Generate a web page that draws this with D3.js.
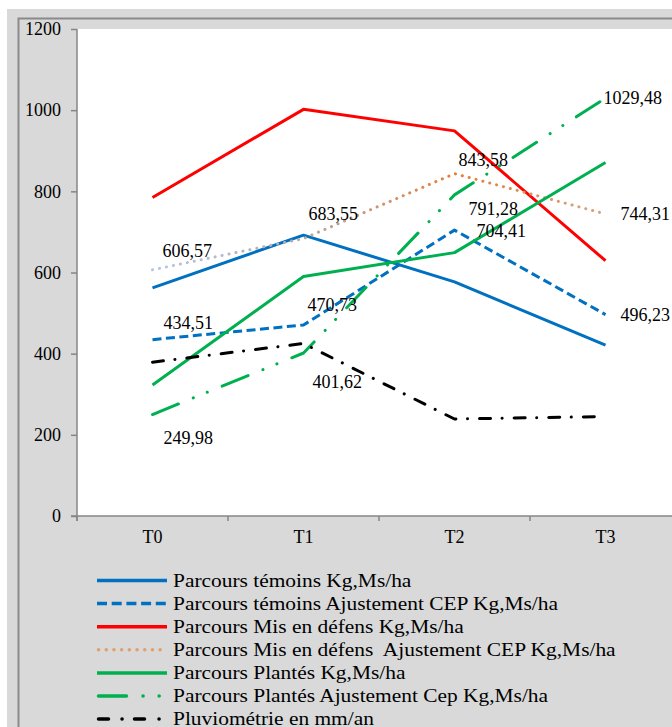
<!DOCTYPE html>
<html>
<head>
<meta charset="utf-8">
<script src="https://cdn.jsdelivr.net/npm/d3@7"></script>
<style>
  html, body { margin: 0; padding: 0; background: #fff; }
  svg text { font-family: 'Liberation Serif', 'Times New Roman', 'DejaVu Serif', serif; }
</style>
</head>
<body>
<div id="chart"></div>
<script>
// data
const periods = ['T0', 'T1', 'T2', 'T3'];
const yTicks = [0, 200, 400, 600, 800, 1000, 1200];

const temoins = [562, 692, 577, 421];
const temoinsCEP = [434.51, 470.73, 704.41, 496.23];
const misEnDefens = [785, 1002, 949, 629];
const misEnDefensCEP = [606.57, 683.55, 843.58, 744.31];
const plantes = [323, 590, 649, 871];
const plantesCEP = [249.98, 401.62, 791.28, 1029.48];
const pluvio = [379, 425, 239, 245];

const seriesNames = [
  'Parcours témoins Kg,Ms/ha',
  'Parcours témoins Ajustement CEP Kg,Ms/ha',
  'Parcours Mis en défens Kg,Ms/ha',
  'Parcours Mis en défens  Ajustement CEP Kg,Ms/ha',
  'Parcours Plantés Kg,Ms/ha',
  'Parcours Plantés Ajustement Cep Kg,Ms/ha',
  'Pluviométrie en mm/an'
];

const FONT = "'Liberation Serif', 'Times New Roman', 'DejaVu Serif', serif";

// styles for each series
const styles = [
  { color: '#0070C0', dash: null, cap: 'butt' },
  { color: '#0070C0', dash: '9,4.5', legendDash: '10,4.7', cap: 'butt' },
  { color: '#FF0000', dash: null, cap: 'butt' },
  { color: 'url(#gradDot)', legendColor: '#e0a070', dash: '0.1,7', legendDash: '0.1,7.6', cap: 'round' },
  { color: '#00B050', dash: null, cap: 'butt' },
  { color: '#00B050', dash: '28,16,0.1,15,0.1,16', legendDash: '28,16.5,0.1,16,0.1,50', cap: 'round' },
  { color: '#000000', dash: '11,11.5,0.1,12', legendDash: '10,13.5,0.1,12.4,10,14.5,0.1,20', cap: 'round' }
];

const series = [temoins, temoinsCEP, misEnDefens, misEnDefensCEP, plantes, plantesCEP, pluvio];

// which series carry value labels, with offsets [dx, dy] from the point
const labelled = [
  { s: 1, off: [[11, -17], [4, -20], [22, 1], [15, 0]] },
  { s: 3, off: [[10, -19], [5, -25], [4, -14], [15, 0]] },
  { s: 5, off: [[11, 23], [9, 29], [14, 14], [-2, 0]] }
];

const W = 672, H = 727;
const svg = d3.select('#chart').append('svg')
  .attr('width', W)
  .attr('height', H)
  .style('display', 'block');

// background frame
svg.append('rect')
  .attr('x', 7).attr('y', 9)
  .attr('width', W).attr('height', H)
  .attr('fill', '#d9d9d9');
svg.append('rect')
  .attr('x', 18.5).attr('y', 18.5)
  .attr('width', W).attr('height', H)
  .attr('fill', 'none')
  .attr('stroke', '#8a8a8a')
  .attr('stroke-width', 2);

const plot = { left: 77, top: 29, bottom: 516, right: 681 };

svg.append('rect')
  .attr('x', plot.left).attr('y', plot.top)
  .attr('width', plot.right - plot.left)
  .attr('height', plot.bottom - plot.top)
  .attr('fill', '#fff');

// scales
const x = d3.scaleBand().domain(periods).range([plot.left, plot.right]);
const y = d3.scaleLinear().domain([0, 1200]).range([plot.bottom, plot.top]);
const cx = d => x(d) + x.bandwidth() / 2;

const defs = svg.append('defs');
const grad = defs.append('linearGradient')
  .attr('id', 'gradDot')
  .attr('gradientUnits', 'userSpaceOnUse')
  .attr('x1', cx('T0')).attr('y1', 0)
  .attr('x2', cx('T3')).attr('y2', 0);
[[0, '#b4c7e7'], [0.33, '#b5a9a6'], [0.67, '#e37f34'], [1, '#d6a582']].forEach(s => {
  grad.append('stop').attr('offset', s[0]).attr('stop-color', s[1]);
});

// y axis
const yAxis = svg.append('g')
  .attr('transform', `translate(${plot.left},0)`)
  .call(d3.axisLeft(y).tickValues(yTicks).tickFormat(d3.format('d')).tickSize(6).tickPadding(10));
yAxis.attr('font-family', FONT);
yAxis.select('.domain').attr('stroke', '#868686').attr('stroke-width', 1.5)
  .attr('d', `M0,${plot.top}V${plot.bottom + 5}`);
yAxis.selectAll('.tick line').attr('stroke', '#868686').attr('stroke-width', 1.5);
yAxis.selectAll('.tick text')
  .attr('font-size', 18)
  .attr('font-family', FONT)
  .attr('fill', '#000');

// x axis
const xg = svg.append('g').attr('transform', `translate(0,${plot.bottom})`);
xg.append('line')
  .attr('x1', plot.left - 6).attr('x2', W)
  .attr('stroke', '#868686').attr('stroke-width', 1.5);
xg.selectAll('.xt')
  .data(periods)
  .join('line')
  .attr('x1', d => x(d)).attr('x2', d => x(d))
  .attr('y1', 0).attr('y2', 5)
  .attr('stroke', '#868686').attr('stroke-width', 1.5);
xg.selectAll('.xl')
  .data(periods)
  .join('text')
  .attr('x', d => cx(d))
  .attr('y', 27)
  .attr('text-anchor', 'middle')
  .attr('font-family', FONT)
  .attr('font-size', 18)
  .text(d => d);

// lines
const line = d3.line()
  .x((d, i) => cx(periods[i]))
  .y(d => y(d));

series.forEach((vals, i) => {
  svg.append('path')
    .datum(vals)
    .attr('d', line)
    .attr('fill', 'none')
    .attr('stroke', styles[i].color)
    .attr('stroke-width', 3)
    .attr('stroke-dasharray', styles[i].dash)
    .attr('stroke-linecap', styles[i].cap)
    .attr('stroke-linejoin', 'round');
});

// value labels
labelled.forEach(l => {
  series[l.s].forEach((v, i) => {
    svg.append('text')
      .attr('x', cx(periods[i]) + l.off[i][0])
      .attr('y', y(v) + l.off[i][1])
      .attr('dominant-baseline', 'central')
      .attr('font-family', FONT)
      .attr('font-size', 18)
      .text(d3.format('.2f')(v).replace('.', ','));
  });
});

// legend
const legend = svg.append('g').attr('transform', 'translate(97,580.5)');
seriesNames.forEach((name, i) => {
  const row = legend.append('g').attr('transform', `translate(0,${i * 23.1})`);
  const st = styles[i];
  const round = st.cap === 'round';
  row.append('line')
    .attr('x1', round ? 1.5 : 0).attr('x2', round ? 68.5 : 70)
    .attr('stroke', st.legendColor || st.color)
    .attr('stroke-width', 3.5)
    .attr('stroke-dasharray', st.legendDash || st.dash)
    .attr('stroke-linecap', st.cap);
  row.append('text')
    .attr('transform', 'translate(76,0) scale(1.19,1)')
    .attr('dominant-baseline', 'central')
    .attr('font-family', FONT)
    .attr('font-size', 18)
    .style('white-space', 'pre')
    .text(name);
});
</script>
</body>
</html>
